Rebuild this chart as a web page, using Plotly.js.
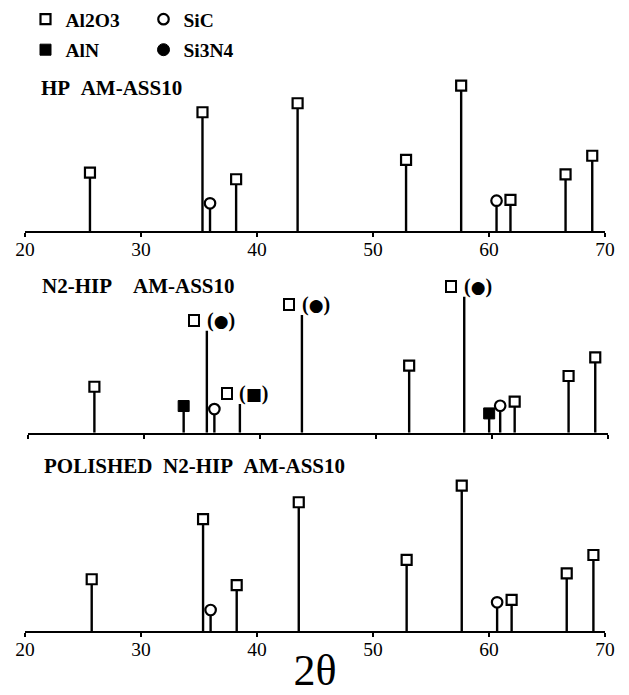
<!DOCTYPE html>
<html><head><meta charset="utf-8">
<script src="https://cdn.plot.ly/plotly-3.0.1.min.js"></script>
<style>html,body{margin:0;padding:0;background:#fff;}</style>
</head><body>
<div id="chart" style="width:629px;height:695px;"></div>
<script>
// ---------- data ----------
const panelTitles = ['HP\u00a0\u00a0AM-ASS10', 'N2-HIP\u00a0\u00a0\u00a0\u00a0AM-ASS10', 'POLISHED\u00a0\u00a0N2-HIP\u00a0\u00a0AM-ASS10'];
const phaseNames = ['Al2O3', 'SiC', 'AlN', 'Si3N4'];
const tickVals = [20, 30, 40, 50, 60, 70];
const tickText = ['20', '30', '40', '50', '60', '70'];
const xTitle = '2θ';

// Panel 1: HP AM-ASS10
const p1Al2O3X = [25.6, 35.3, 38.2, 43.5, 52.85, 57.6, 61.85, 66.6, 68.9];
const p1Al2O3Y = [40.2, 81.9, 35.7, 88.1, 49.0, 100.2, 21.4, 39.1, 51.9];
const p1SiCX = [35.95, 60.65];
const p1SiCY = [19.1, 20.9];

// Panel 2: N2-HIP AM-ASS10
const p2Al2O3X = [25.7, 52.85, 61.95, 66.6, 68.9];
const p2Al2O3Y = [31.7, 46.2, 21.4, 39.1, 51.9];
const p2TaggedX = [35.4, 38.25, 43.6, 57.6];        // Al2O3 peaks overlapping another phase
const p2TaggedY = [70.3, 19.8, 81.2, 93.8];
const p2TaggedPhase = ['Si3N4', 'AlN', 'Si3N4', 'Si3N4'];
const p2AlNX = [33.4, 59.75];
const p2AlNY = [18.4, 13.3];
const p2SiCX = [36.05, 60.7];
const p2SiCY = [16.3, 18.6];

// Panel 3: POLISHED N2-HIP AM-ASS10
const p3Al2O3X = [25.75, 35.35, 38.25, 43.6, 52.9, 57.65, 61.95, 66.7, 69.0];
const p3Al2O3Y = [35.7, 77.2, 31.7, 88.8, 49.0, 100.2, 21.4, 39.8, 52.4];
const p3SiCX = [36.0, 60.7];
const p3SiCY = [14.5, 19.8];

// ---------- styles ----------
const SERIF = 'Liberation Serif, Times New Roman, serif';
const openSquare = {symbol: 'square', size: 10, color: '#fff', line: {color: '#000', width: 2.2}};
const openCircle = {symbol: 'circle', size: 10.5, color: '#fff', line: {color: '#000', width: 2.2}};
const filledSquare = {symbol: 'square', size: 11, color: '#000', line: {color: '#000', width: 1}};
const filledCircle = {symbol: 'circle', size: 12, color: '#000', line: {color: '#000', width: 1}};
const glyphSpan = (g) => '<span style="font-family:DejaVu Sans;font-size:17px">' + g + '</span>';
const tagGlyph = {Si3N4: '(' + glyphSpan('●') + ')', AlN: '(' + glyphSpan('■') + ')'};

function stems(xs, ys, xa, ya) {
  const sx = [], sy = [];
  xs.forEach((x, i) => { sx.push(x, x, null); sy.push(0, ys[i], null); });
  return {x: sx, y: sy, xaxis: xa, yaxis: ya, mode: 'lines', line: {color: '#000', width: 2.4},
          showlegend: false, hoverinfo: 'skip'};
}
function marks(xs, ys, marker, name, xa, ya, legend) {
  return {x: xs, y: ys, xaxis: xa, yaxis: ya, mode: 'markers', marker: marker, name: name,
          showlegend: !!legend, legend: legend || 'legend', cliponaxis: false};
}

const traces = [
  stems(p1Al2O3X.concat(p1SiCX), p1Al2O3Y.concat(p1SiCY), 'x', 'y'),
  marks(p1Al2O3X, p1Al2O3Y, openSquare, phaseNames[0], 'x', 'y', 'legend'),
  marks(p1SiCX, p1SiCY, openCircle, phaseNames[1], 'x', 'y', 'legend2'),

  stems(p2Al2O3X.concat(p2TaggedX, p2AlNX, p2SiCX), p2Al2O3Y.concat(p2TaggedY, p2AlNY, p2SiCY), 'x2', 'y2'),
  marks(p2Al2O3X, p2Al2O3Y, openSquare, phaseNames[0], 'x2', 'y2'),
  marks(p2AlNX, p2AlNY, filledSquare, phaseNames[2], 'x2', 'y2', 'legend3'),
  marks(p2SiCX, p2SiCY, openCircle, phaseNames[1], 'x2', 'y2'),
  marks([null], [null], filledCircle, phaseNames[3], 'x2', 'y2', 'legend4'),

  stems(p3Al2O3X.concat(p3SiCX), p3Al2O3Y.concat(p3SiCY), 'x3', 'y3'),
  marks(p3Al2O3X, p3Al2O3Y, openSquare, phaseNames[0], 'x3', 'y3'),
  marks(p3SiCX, p3SiCY, openCircle, phaseNames[1], 'x3', 'y3')
];

// ---------- layout ----------
const W = 629, H = 695, ML = 25, MR = 21, MT = 0, MB = 64;
const PW = W - ML - MR, PH = H - MT - MB;
const yDom = (bottomPx) => { const b = (PH - bottomPx) / PH; return [b, b + 174 / PH]; };

function xax(domain, anchor, labels) {
  return {domain: domain, anchor: anchor, range: [20, 70], showline: true, linecolor: '#000', linewidth: 2,
          ticks: 'outside', ticklen: 4, tickwidth: 2, tickcolor: '#000', tickmode: 'array',
          tickvals: tickVals, ticktext: tickText, showticklabels: labels, ticklabelstandoff: -4,
          tickfont: {family: SERIF, size: 19.5, color: '#000'}, showgrid: false, zeroline: false, fixedrange: true};
}
function yax(domain, anchor) {
  return {domain: domain, anchor: anchor, range: [0, 120], visible: false, fixedrange: true};
}

const annotations = [];
const titlePos = [[40, 88], [40.7, 286], [43, 466]];
panelTitles.forEach((t, i) => {
  annotations.push({text: t, xref: 'paper', yref: 'paper', x: (titlePos[i][0] - ML) / PW, y: (PH - titlePos[i][1]) / PH,
    xanchor: 'left', yanchor: 'middle', showarrow: false, borderpad: 0,
    font: {family: SERIF, size: 21, color: '#000', weight: 'bold'}});
});
p2TaggedX.forEach((x, i) => {
  annotations.push({text: '\u00a0', x: x, y: p2TaggedY[i], xref: 'x2', yref: 'y2', showarrow: false,
    xshift: -13, yshift: 10, width: 6, height: 7, borderpad: 1, borderwidth: 2, bordercolor: '#000', bgcolor: '#fff',
    font: {size: 4}});
  annotations.push({text: tagGlyph[p2TaggedPhase[i]], x: x, y: p2TaggedY[i], xref: 'x2', yref: 'y2', showarrow: false,
    xshift: 14, yshift: 10, borderpad: 0, font: {family: SERIF, size: 20, color: '#000', weight: 'bold'}});
});

function leg(px, py) {
  return {xref: 'container', yref: 'container', x: (px - 20) / W, y: 1 - (py - 17) / H, xanchor: 'left', yanchor: 'top',
          bgcolor: 'rgba(0,0,0,0)', borderwidth: 0, font: {family: SERIF, size: 19.5, color: '#000', weight: 'bold'}};
}

const layout = {
  width: W, height: H, margin: {l: ML, r: MR, t: MT, b: MB, autoexpand: false}, paper_bgcolor: '#fff', plot_bgcolor: '#fff',
  xaxis: xax([0, 580 / PW], 'y', true),
  yaxis: yax(yDom(231), 'x'),
  xaxis2: xax([3.3 / PW, 1], 'y2', false),
  yaxis2: yax(yDom(432.7), 'x2'),
  xaxis3: Object.assign(xax([0, 580 / PW], 'y3', true),
    {title: {text: xTitle, font: {family: SERIF, size: 44, color: '#000'}, standoff: 11}}),
  yaxis3: yax(yDom(631), 'x3'),
  legend: leg(45.5, 14),
  legend2: leg(163.5, 14),
  legend3: leg(45.5, 47.5),
  legend4: leg(163.5, 47.5),
  annotations: annotations,
  showlegend: true
};

Plotly.newPlot('chart', traces, layout, {displayModeBar: false, staticPlot: true});
</script>
</body></html>
